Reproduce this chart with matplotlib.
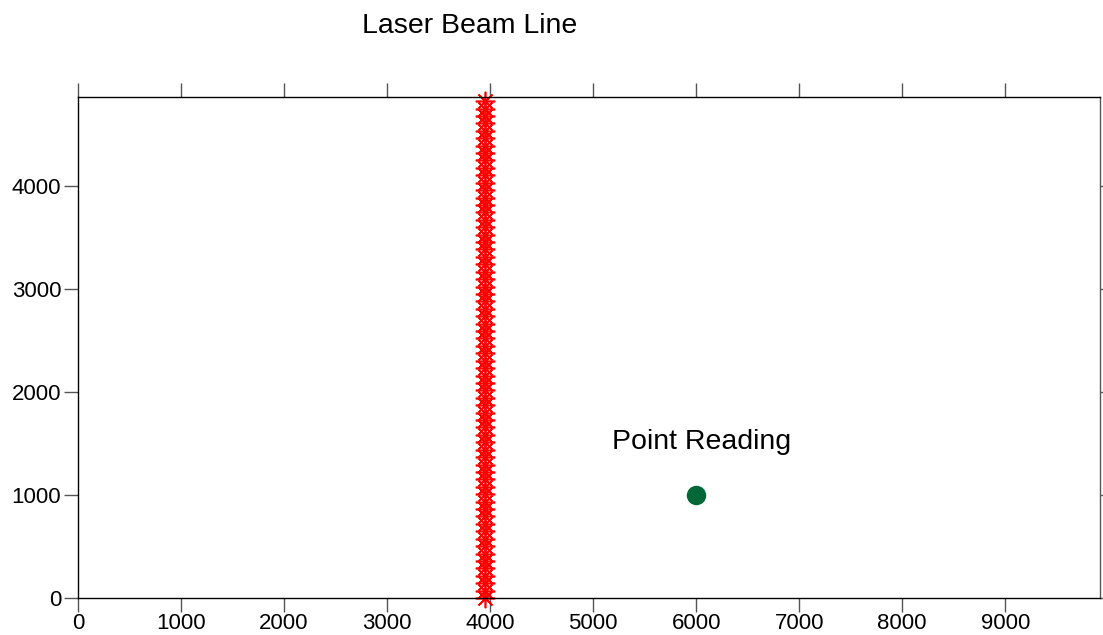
import numpy as np
import matplotlib
matplotlib.use("Agg")
import matplotlib.pyplot as plt

plt.rcParams['font.family'] = ['Liberation Sans', 'DejaVu Sans']

# Data
beam_x = 3955
beam_y = np.arange(0, 4861, 72)
point_x = [6000]
point_y = [1000]
x_ticks = [0, 1000, 2000, 3000, 4000, 5000, 6000, 7000, 8000, 9000]
y_ticks = [0, 1000, 2000, 3000, 4000]
beam_label = "Laser Beam Line"
point_label = "Point Reading"

fig = plt.figure(figsize=(11.03, 6.35), dpi=100)
ax = fig.add_axes([78/1103, 37/635, 1022/1103, 501/635])

ax.plot([beam_x]*len(beam_y), beam_y, linestyle='none', marker=(8, 2, 0),
        markersize=14, markeredgecolor='#ff0000', markeredgewidth=1.2, clip_on=False)
ax.plot(point_x, point_y, linestyle='none', marker='o', markersize=13,
        color='#006837', clip_on=False)

ax.set_xlim(0, 9920)
ax.set_ylim(0, 4864)
ax.set_xticks(x_ticks)
ax.set_yticks(y_ticks)

ax.tick_params(axis='both', direction='out', labelsize=16, width=1, length=10, color='#555555')
ax.tick_params(axis='x', top=True, labeltop=False, pad=0.5)
ax.tick_params(axis='y', right=True, labelright=False, pad=2)
for t in ax.yaxis.get_major_ticks():
    t.tick2line.set_markersize(3)

for side, c in [('left', 'black'), ('bottom', 'black'), ('top', 'black'), ('right', '#555555')]:
    ax.spines[side].set_color(c)
    ax.spines[side].set_linewidth(1)

fig.text(470/1103, 1 - 26/635, beam_label, ha='center', va='center', fontsize=20.5)
ax.text(6049, 1515, point_label, ha='center', va='center', fontsize=20.5)

fig.savefig("out.png", dpi=100)
